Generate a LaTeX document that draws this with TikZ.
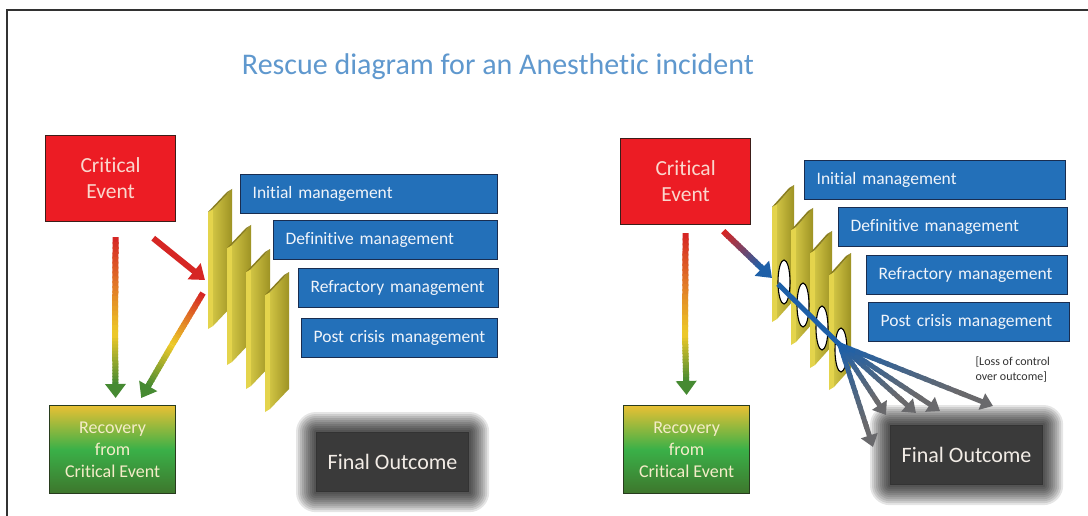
\documentclass[tikz,border=0pt]{standalone}
\usepackage{fontspec}
\setmainfont{Carlito}[Ligatures=NoCommon]
\usetikzlibrary{arrows.meta,calc}

\definecolor{critred}{RGB}{236,28,36}
\definecolor{critline}{RGB}{60,30,25}
\definecolor{crittext}{RGB}{250,215,205}
\definecolor{mgmtblue}{RGB}{35,112,185}
\definecolor{mgmtline}{RGB}{25,45,80}
\definecolor{mgmttext}{RGB}{240,244,250}
\definecolor{recyellow}{RGB}{232,192,52}
\definecolor{recgreen}{RGB}{58,176,72}
\definecolor{recdark}{RGB}{62,118,44}
\definecolor{recline}{RGB}{40,60,30}
\definecolor{rectext}{RGB}{245,236,200}
\definecolor{outfill}{RGB}{58,58,58}
\definecolor{outtext}{RGB}{242,236,230}
\definecolor{titleblue}{RGB}{95,152,206}
\definecolor{slab}{RGB}{202,188,46}
\definecolor{slabfront}{RGB}{228,212,76}
\definecolor{slabtop}{RGB}{138,126,30}
\definecolor{flowred}{RGB}{214,38,36}
\definecolor{flowyellow}{RGB}{236,200,40}
\definecolor{flowgreen}{RGB}{70,138,50}
\definecolor{flowblue}{RGB}{30,96,168}
\definecolor{fadegray}{RGB}{105,105,108}
\definecolor{framegray}{RGB}{50,50,50}

\pgfdeclarelayer{paper}
\pgfdeclarelayer{glow}
\pgfsetlayers{paper,glow,main}

% colour ramp along a straight line, no tip
\newcommand{\fadeline}[4]{%
  \foreach \s in {0,...,19}{%
    \pgfmathtruncatemacro\mixpct{100-\s*100/19}%
    \pgfmathsetmacro\tbeg{\s/20}\pgfmathsetmacro\tend{min(\s/20+0.07,1)}%
    \draw[flow, color=#3!\mixpct!#4] ($(#1)!\tbeg!(#2)$) -- ($(#1)!\tend!(#2)$);
  }}
% colour ramp ending in an arrow tip
\newcommand{\fadearrow}[4]{%
  \foreach \s in {0,...,15}{%
    \pgfmathtruncatemacro\mixpct{100-\s*100/15}%
    \pgfmathsetmacro\tbeg{\s/20}\pgfmathsetmacro\tend{\s/20+0.07}%
    \draw[flow, color=#3!\mixpct!#4] ($(#1)!\tbeg!(#2)$) -- ($(#1)!\tend!(#2)$);
  }%
  \draw[flow, color=#4, ->] ($(#1)!0.78!(#2)$) -- (#2);
}
% soft dark halo behind a node
\newcommand{\halo}[1]{%
  \begin{pgfonlayer}{glow}
    \foreach \g in {20,18,...,2}{%
      \fill[black, opacity=0.1, rounded corners=\g]
        ($(#1.north west)+(-\g,-\g)$) rectangle ($(#1.south east)+(\g,\g)$);
    }
  \end{pgfonlayer}}

\begin{document}
\begin{tikzpicture}[x=1pt,y=1pt,yscale=-1,
    box/.style={anchor=north west, line width=1.2pt, align=center, inner sep=0pt},
    critbox/.style={box, draw=critline, fill=critred, text=crittext,
      font=\fontsize{21.5}{26}\selectfont, minimum width=130pt, minimum height=86pt},
    recbox/.style={box, draw=recline, top color=recyellow, bottom color=recdark,
      middle color=recgreen, text=rectext, font=\fontsize{18}{22}\selectfont,
      minimum width=126pt, minimum height=88pt},
    mgmt/.style={box, draw=mgmtline, fill=mgmtblue, text=mgmttext, align=left,
      inner xsep=12pt, text width=#1, minimum height=39pt,
      font=\fontsize{17.5}{20}\selectfont},
    outbox/.style={box, draw=black!80, fill=outfill, text=outtext,
      font=\fontsize{22}{26}\selectfont, minimum width=152pt, minimum height=59pt},
    hole/.style={draw=black, line width=1.1pt, fill=white},
    flow/.style={line width=6pt},
    >={Triangle[width=20pt,length=14pt]}]

  \begin{pgfonlayer}{paper}
    \fill[white] (0,0) rectangle (1088,516);
  \end{pgfonlayer}
  \useasboundingbox (0,0) rectangle (1088,516);
  \draw[framegray, line width=2pt] (7,516) -- (7,10) -- (1088,10);

  \node[text=titleblue, font=\fontsize{30}{36}\selectfont] (title) at (498,67)
    {Rescue diagram for an Anesthetic incident};

  %% left: rescue succeeds
  \node[critbox] (ceL) at (45,135) {Critical\\Event};
  \node[recbox] (recL) at (49,405) {Recovery\\from\\Critical Event};
  \node[mgmt=233pt] (initL) at (240,174) {Initial management};
  \node[mgmt=200pt] (defL) at (273,220) {Definitive management};
  \node[mgmt=176pt] (refL) at (298,268) {Refractory management};
  \node[mgmt=172pt] (postL) at (301,318) {Post crisis management};
  \node[outbox] (outL) at (316,432) {Final Outcome};
  \halo{outL}

  % barriers
  \foreach \x/\y in {208/212,227/248,246/272,265/295}{
    \fill[slabfront] (\x,\y) -- (\x+5,\y-3) -- (\x+5,\y+114) -- (\x,\y+117) -- cycle;
    \shade[left color=slab!90!white, right color=slab!78!black]
      (\x+5,\y-3) -- (\x+24,\y-23) -- (\x+24,\y+94) -- (\x+5,\y+114) -- cycle;
    \fill[slabtop] (\x,\y) -- (\x+19,\y-20) -- (\x+24,\y-23) -- (\x+5,\y-3) -- cycle;
  }

  \coordinate (vtopL) at ($(ceL.south)+(5,15)$);
  \coordinate (vmidL) at (115,335);
  \coordinate (vtipL) at ($(recL.north)+(3,-7)$);
  \fadeline{vtopL}{vmidL}{flowred}{flowyellow}
  \fadearrow{vmidL}{vtipL}{flowyellow}{flowgreen}

  \coordinate (hitL) at (205,280);
  \draw[flow, flowred, ->] ($(ceL.south east)+(-23,16)$) -- (hitL);

  \coordinate (backL) at (203,293);
  \coordinate (bmidL) at (172,345);
  \coordinate (btipL) at ($(recL.north east)+(-35,-7)$);
  \fadeline{backL}{bmidL}{flowred}{flowyellow}
  \fadearrow{bmidL}{btipL}{flowyellow}{flowgreen}

  %% right: rescue fails
  \node[critbox] (ceR) at (620,138) {Critical\\Event};
  \node[recbox] (recR) at (623,405) {Recovery\\from\\Critical Event};
  \node[mgmt=237pt] (initR) at (804,160) {Initial management};
  \node[mgmt=205pt] (defR) at (838,207) {Definitive management};
  \node[mgmt=177pt] (refR) at (866,255) {Refractory management};
  \node[mgmt=177pt] (postR) at (868,302) {Post crisis management};
  \node[outbox] (outR) at (890,425) {Final Outcome};
  \halo{outR}
  \node[anchor=north west, align=left, text=framegray,
    font=\fontsize{12}{15}\selectfont] (loss) at (972,353)
    {[Loss of control\\over outcome]};

  % barriers with holes
  \foreach \x/\y in {772/207,791/230,810/253,829/275}{
    \fill[slabfront] (\x,\y) -- (\x+5,\y-3) -- (\x+5,\y+112) -- (\x,\y+115) -- cycle;
    \shade[left color=slab!90!white, right color=slab!78!black]
      (\x+5,\y-3) -- (\x+22,\y-22) -- (\x+22,\y+93) -- (\x+5,\y+112) -- cycle;
    \fill[slabtop] (\x,\y) -- (\x+17,\y-19) -- (\x+22,\y-22) -- (\x+5,\y-3) -- cycle;
    \draw[hole] (\x+12,\y+75) ellipse [x radius=6, y radius=22];
  }

  \coordinate (vtopR) at ($(ceR.south)+(0,8)$);
  \coordinate (vmidR) at (685,335);
  \coordinate (vtipR) at ($(recR.north)+(0,-10)$);
  \fadeline{vtopR}{vmidR}{flowred}{flowyellow}
  \fadearrow{vmidR}{vtipR}{flowyellow}{flowgreen}

  \coordinate (hitR) at (772,278);
  \fadearrow{$(ceR.south east)+(-28,6)$}{hitR}{flowred}{flowblue}

  \coordinate (leak) at (840,345);
  \draw[flowblue, line width=5pt] (778,284) -- (leak);
  \begin{scope}[flow/.style={line width=5pt},
      >={Triangle[width=17pt,length=12pt]}]
    \coordinate (lostA) at (873,447);
    \coordinate (lostB) at (886,415);
    \coordinate (lostC) at (916,413);
    \coordinate (lostD) at (940,411);
    \coordinate (lostE) at (993,406);
    \foreach \t in {lostA,lostB,lostC,lostD,lostE}{
      \fadearrow{leak}{\t}{flowblue}{fadegray}
    }
  \end{scope}
\end{tikzpicture}
\end{document}
